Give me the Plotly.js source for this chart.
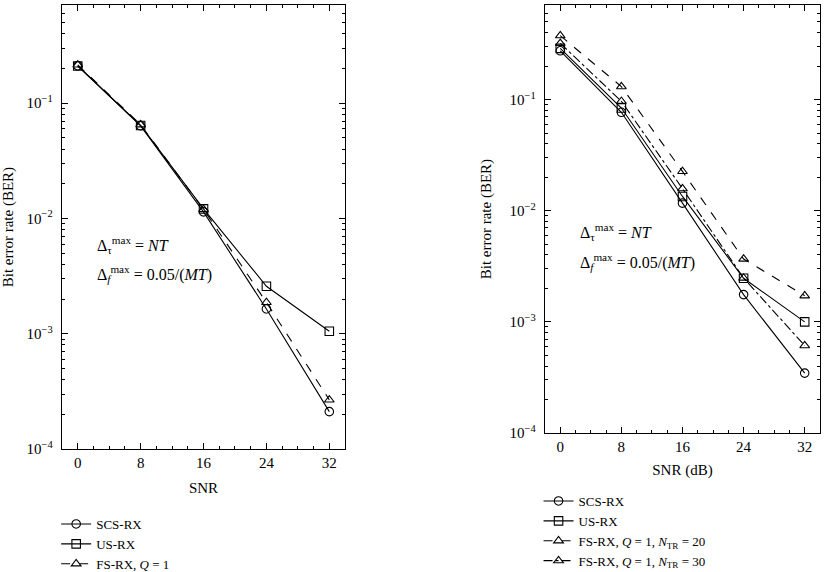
<!DOCTYPE html>
<html><head><meta charset="utf-8">
<script src="https://cdn.plot.ly/plotly-3.0.1.min.js"></script>
<style>html,body{margin:0;padding:0;background:#fff;}</style>
</head><body>
<div id="plot" style="width:826px;height:572px;"></div>
<script>
const snr = [0, 8, 16, 24, 32];
// Left panel
const leftSCS = [0.211, 0.0636, 0.0114, 0.00164, 0.000211];
const leftUS  = [0.21, 0.064, 0.0121, 0.00258, 0.00105];
const leftFS  = [0.215, 0.065, 0.012, 0.00187, 0.000267];
// Right panel
const rightSCS  = [0.275, 0.0769, 0.0117, 0.00176, 0.000346];
const rightUS   = [0.289, 0.084, 0.01345, 0.00247, 0.001];
const rightFS20 = [0.376, 0.131, 0.0226, 0.00368, 0.00172];
const rightFS30 = [0.321, 0.0966, 0.0158, 0.00248, 0.000612];
const leftNames = ['SCS-RX', 'US-RX', 'FS-RX, <i>Q</i> = 1'];
const rightNames = ['SCS-RX', 'US-RX', 'FS-RX, <i>Q</i> = 1, <i>N</i><sub>TR</sub> = 20', 'FS-RX, <i>Q</i> = 1, <i>N</i><sub>TR</sub> = 30'];
const yTickVals = [1e-4, 1e-3, 1e-2, 1e-1];
const yTickText = ['10<sup>−4</sup>', '10<sup>−3</sup>', '10<sup>−2</sup>', '10<sup>−1</sup>'];

// minor tick positions on log axis (2..9 within each decade)
const yMinor = [];
for (let e = -4; e <= -1; e++) for (let m = 2; m <= 9; m++) yMinor.push(m * Math.pow(10, e));

const FONT = 'Liberation Serif, Times New Roman, serif';
function tr(x, y, name, symbol, dash, xa, ya, leg) {
  return {
    x: x, y: y, name: name, type: 'scatter', mode: 'lines+markers',
    xaxis: xa, yaxis: ya, legend: leg,
    line: {color: '#000', width: 1.1, dash: dash},
    marker: {symbol: symbol, size: 8.5, color: '#000', line: {color: '#000', width: 1.1}}
  };
}
const data = [
  tr(snr, leftSCS, leftNames[0], 'circle-open', 'solid', 'x', 'y', 'legend'),
  tr(snr, leftUS, leftNames[1], 'square-open', 'solid', 'x', 'y', 'legend'),
  tr(snr, leftFS, leftNames[2], 'triangle-up-open', 'dash', 'x', 'y', 'legend'),
  tr(snr, rightSCS, rightNames[0], 'circle-open', 'solid', 'x2', 'y2', 'legend2'),
  tr(snr, rightUS, rightNames[1], 'square-open', 'solid', 'x2', 'y2', 'legend2'),
  tr(snr, rightFS20, rightNames[2], 'triangle-up-open', 'dash', 'x2', 'y2', 'legend2'),
  tr(snr, rightFS30, rightNames[3], 'triangle-up-open', 'dashdot', 'x2', 'y2', 'legend2')
];

function xax(domain, anchor, title, standoff) {
  return {
    domain: domain, anchor: anchor, range: [-2, 34], tickvals: snr, ticktext: snr.map(String),
    ticks: 'inside', ticklen: 6, tickcolor: '#000', mirror: 'ticks', showline: true, linecolor: '#000', linewidth: 1.3,
    showgrid: false, zeroline: false, automargin: false,
    minor: {dtick: 2, tick0: 0, ticks: 'inside', ticklen: 3, tickcolor: '#000', showgrid: false},
    tickfont: {family: FONT, size: 15, color: '#000'},
    title: {text: title, font: {family: FONT, size: 15, color: '#000'}, standoff: standoff}
  };
}
function yax(domain, anchor, standoff) {
  return {
    domain: domain, anchor: anchor, type: 'log', range: [-4, -0.15],
    tickvals: yTickVals, ticktext: yTickText,
    ticks: 'inside', ticklen: 6, tickcolor: '#000', mirror: 'ticks', showline: true, linecolor: '#000', linewidth: 1.3,
    showgrid: false, zeroline: false, automargin: false, ticklabelstandoff: 5,
    minor: {tickvals: yMinor, ticks: 'inside', ticklen: 3, tickcolor: '#000', showgrid: false},
    tickfont: {family: FONT, size: 15, color: '#000'},
    title: {text: 'Bit error rate (BER)', font: {family: FONT, size: 15, color: '#000'}, standoff: standoff}
  };
}
const annFont = {family: FONT, size: 16, color: '#000'};
const legFont = {family: FONT, size: 13, color: '#000'};
const layout = {
  width: 826, height: 572, margin: {l: 0, r: 0, t: 0, b: 0, autoexpand: false},
  paper_bgcolor: '#fff', plot_bgcolor: '#fff', showlegend: true,
  font: {family: FONT, color: '#000'},
  xaxis: xax([0.0751, 0.4177], 'y', 'SNR', 12),
  yaxis: yax([0.215, 0.991], 'x', 10),
  xaxis2: xax([0.6598, 0.9927], 'y2', 'SNR (dB)', 10),
  yaxis2: yax([0.243, 0.991], 'x2', 14),
  legend: {x: 0.068, y: 1 - 509/572, xanchor: 'left', yanchor: 'top', bgcolor: 'rgba(0,0,0,0)',
           font: legFont, tracegroupgap: 0, itemwidth: 30},
  legend2: {x: 0.652, y: 1 - 486/572, xanchor: 'left', yanchor: 'top', bgcolor: 'rgba(0,0,0,0)',
           font: legFont, tracegroupgap: 0, itemwidth: 30},
  annotations: [
    {xref: 'paper', yref: 'paper', x: 95/826, y: 1 - 245/572, xanchor: 'left', yanchor: 'middle', showarrow: false,
     text: 'Δ<sub>τ</sub><sup>max</sup> = <i>NT</i>', font: annFont},
    {xref: 'paper', yref: 'paper', x: 95/826, y: 1 - 274/572, xanchor: 'left', yanchor: 'middle', showarrow: false,
     text: 'Δ<sub><i>f</i></sub><sup>max</sup> = 0.05/(<i>MT</i>)', font: annFont},
    {xref: 'paper', yref: 'paper', x: 578/826, y: 1 - 232/572, xanchor: 'left', yanchor: 'middle', showarrow: false,
     text: 'Δ<sub>τ</sub><sup>max</sup> = <i>NT</i>', font: annFont},
    {xref: 'paper', yref: 'paper', x: 578/826, y: 1 - 262/572, xanchor: 'left', yanchor: 'middle', showarrow: false,
     text: 'Δ<sub><i>f</i></sub><sup>max</sup> = 0.05/(<i>MT</i>)', font: annFont}
  ]
};
Plotly.newPlot('plot', data, layout, {displayModeBar: false, staticPlot: true});
</script>
</body></html>
